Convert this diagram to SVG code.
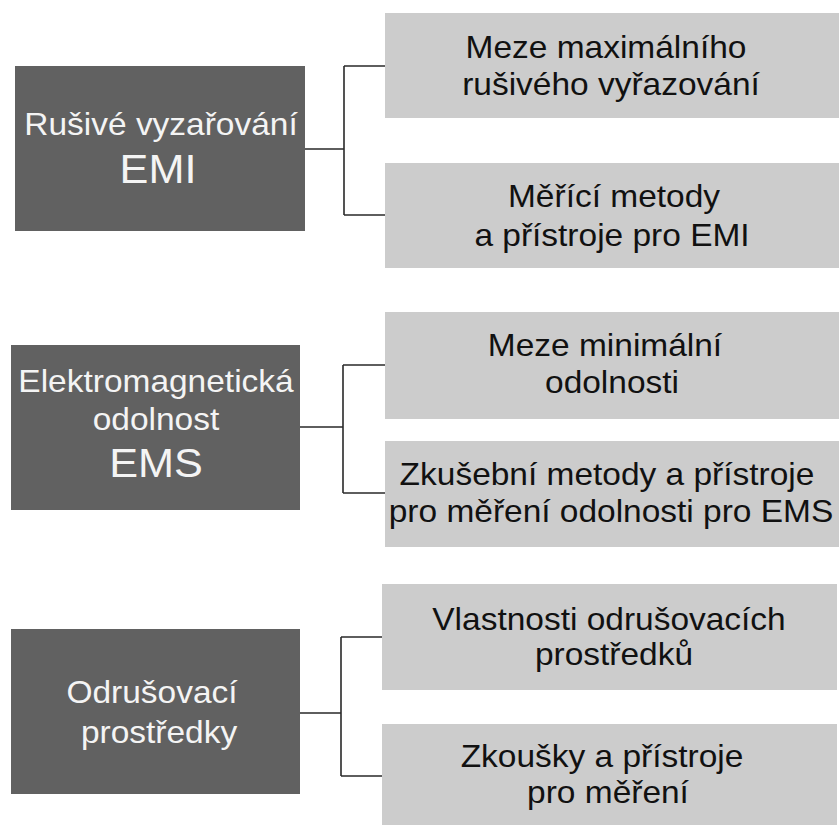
<svg xmlns="http://www.w3.org/2000/svg" width="839" height="825" viewBox="0 0 839 825">
<style>
.dark{fill:#616161}
.light{fill:#cccccc}
.tw{font-family:"Liberation Sans",Arial,sans-serif;font-size:31px;fill:#f4f4f4;text-anchor:middle}
.tb{font-family:"Liberation Sans",Arial,sans-serif;font-size:31px;fill:#111111;text-anchor:middle}
.big{font-size:40px}
.conn{fill:none;stroke:#2a2a2a;stroke-width:1.6}
</style>
<rect width="839" height="825" fill="#ffffff"/>
<g id="connectors">
<path class="conn" d="M305 149H344M344 66V215M344 66H386M344 215H386"/>
<path class="conn" d="M300 427H343M343 365V493M343 365H385M343 493H385"/>
<path class="conn" d="M300 713H341M341 637V776M341 637H382M341 776H382"/>
</g>
<g id="emi">
<rect class="dark" x="15" y="66" width="290" height="165"/>
<g transform="translate(161,0) scale(1.08,1)"><text class="tw" x="0" y="135">Rušivé vyzařování</text></g>
<g transform="translate(158,0) scale(1.08,1)"><text class="tw big" x="0" y="183">EMI</text></g>
</g>
<g id="ems">
<rect class="dark" x="11" y="345" width="289" height="165"/>
<g transform="translate(156,0) scale(1.08,1)"><text class="tw" x="0" y="392">Elektromagnetická</text>
<text class="tw" x="0" y="430">odolnost</text></g>
<g transform="translate(156,0) scale(1.08,1)"><text class="tw big" x="0" y="477">EMS</text></g>
</g>
<g id="odrus">
<rect class="dark" x="11" y="629" width="289" height="165"/>
<g transform="translate(152,0) scale(1.08,1)"><text class="tw" x="0" y="703">Odrušovací</text></g>
<g transform="translate(159,0) scale(1.08,1)"><text class="tw" x="0" y="743">prostředky</text></g>
</g>
<g id="emi1">
<rect class="light" x="385" y="13" width="454" height="105"/>
<g transform="translate(606,0) scale(1.08,1)"><text class="tb" x="0" y="58">Meze maximálního</text></g>
<g transform="translate(611,0) scale(1.08,1)"><text class="tb" x="0" y="95">rušivého vyřazování</text></g>
</g>
<g id="emi2">
<rect class="light" x="385" y="163" width="454" height="105"/>
<g transform="translate(614,0) scale(1.08,1)"><text class="tb" x="0" y="207">Měřící metody</text></g>
<g transform="translate(612,0) scale(1.08,1)"><text class="tb" x="0" y="246">a přístroje pro EMI</text></g>
</g>
<g id="ems1">
<rect class="light" x="385" y="312" width="454" height="107"/>
<g transform="translate(605,0) scale(1.08,1)"><text class="tb" x="0" y="356">Meze minimální</text></g>
<g transform="translate(612,0) scale(1.08,1)"><text class="tb" x="0" y="393">odolnosti</text></g>
</g>
<g id="ems2">
<rect class="light" x="385" y="441" width="454" height="106"/>
<g transform="translate(607,0) scale(1.08,1)"><text class="tb" x="0" y="485">Zkušební metody a přístroje</text></g>
<g transform="translate(611,0) scale(1.08,1)"><text class="tb" x="0" y="522">pro měření odolnosti pro EMS</text></g>
</g>
<g id="odrus1">
<rect class="light" x="382" y="584" width="455" height="106"/>
<g transform="translate(609,0) scale(1.08,1)"><text class="tb" x="0" y="630">Vlastnosti odrušovacích</text></g>
<g transform="translate(614,0) scale(1.08,1)"><text class="tb" x="0" y="665">prostředků</text></g>
</g>
<g id="odrus2">
<rect class="light" x="382" y="724" width="455" height="101"/>
<g transform="translate(602,0) scale(1.08,1)"><text class="tb" x="0" y="767">Zkoušky a přístroje</text></g>
<g transform="translate(608,0) scale(1.08,1)"><text class="tb" x="0" y="803">pro měření</text></g>
</g>
</svg>
